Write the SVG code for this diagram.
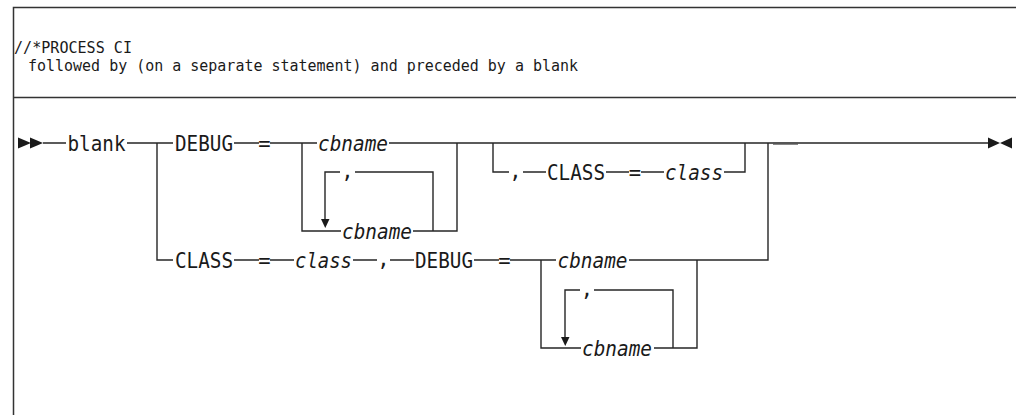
<svg xmlns="http://www.w3.org/2000/svg" width="1016" height="415" viewBox="0 0 1016 415">
<defs>
<style>
.bg{fill:#ffffff}
.frame{stroke:#333333;stroke-width:1.5;fill:none}
.ln{stroke:#262626;stroke-width:1.4;fill:none}
.hd{font-family:"DejaVu Sans Mono","Liberation Mono",monospace;font-size:15.6px;fill:#1a1a1a}
.t{font-family:"DejaVu Sans Mono","Liberation Mono",monospace;font-size:20.5px;fill:#1a1a1a}
.i{font-family:"DejaVu Sans Mono","Liberation Mono",monospace;font-size:20.5px;font-style:italic;fill:#1a1a1a}
.m{text-anchor:middle}
.ah{fill:#1a1a1a}
</style>
</defs>
<rect class="bg" x="0" y="0" width="1016" height="415"/>
<g id="frame">
<path class="frame" d="M13.5,415 V7.5 H1016 M13.5,97.5 H1016"/>
</g>
<g id="header">
<text class="hd" x="14" y="53" textLength="118" lengthAdjust="spacingAndGlyphs">//*PROCESS CI</text>
<text class="hd" x="28" y="71" textLength="550" lengthAdjust="spacingAndGlyphs">followed by (on a separate statement) and preceded by a blank</text>
</g>
<g id="connectors">
<path class="ln" d="M43,143 H66 M127,143 H173 M234,143 H259 M270,143 H317 M389,143 H988"/>
<path d="M773,143.5 H798" stroke="#555555" stroke-width="2.4"/>
<path class="ln" d="M157,143 V260 H173"/>
<path class="ln" d="M302,143 V231 H341 M413,231 H457 V143"/>
<path class="ln" d="M325,219 V172 H340 M355,172 H433 V231"/>
<path class="ln" d="M493,143 V172 H509 M523,172 H546 M606,172 H629 M641,172 H664 M724,172 H745 V143"/>
<path class="ln" d="M768,143 V260 H629"/>
<path class="ln" d="M234,260 H259 M270,260 H294 M353,260 H377 M390,260 H414 M474,260 H499 M510,260 H556"/>
<path class="ln" d="M541,260 V348 H581 M654,348 H697 V260"/>
<path class="ln" d="M565,337 V290 H580 M594,290 H673 V348"/>
<polygon class="ah" points="18,137.5 31,143 18,148.5"/>
<polygon class="ah" points="30,137.5 43,143 30,148.5"/>
<polygon class="ah" points="988,137.5 1000,143 988,148.5"/>
<polygon class="ah" points="1012,137.5 1000,143 1012,148.5"/>
<polygon class="ah" points="321,219 329.5,219 325.25,228"/>
<polygon class="ah" points="561,337 569.5,337 565.25,346"/>
</g>
<g id="node-blank"><text class="t" x="67.5" y="150.5" textLength="58" lengthAdjust="spacingAndGlyphs">blank</text></g>
<g id="node-debug1"><text class="t" x="175" y="150.5" textLength="58" lengthAdjust="spacingAndGlyphs">DEBUG</text></g>
<g id="node-eq1"><text class="t m" x="264.5" y="150.5">=</text></g>
<g id="node-cbname1"><text class="i" x="318" y="150.5" textLength="70" lengthAdjust="spacingAndGlyphs">cbname</text></g>
<g id="node-comma1"><text class="t m" x="347.5" y="178">,</text></g>
<g id="node-cbname2"><text class="i" x="342" y="238.5" textLength="70" lengthAdjust="spacingAndGlyphs">cbname</text></g>
<g id="node-comma2"><text class="t m" x="515.5" y="178">,</text></g>
<g id="node-class1"><text class="t" x="547" y="179.5" textLength="58" lengthAdjust="spacingAndGlyphs">CLASS</text></g>
<g id="node-eq2"><text class="t m" x="635" y="179.5">=</text></g>
<g id="node-classv1"><text class="i" x="665" y="179.5" textLength="58" lengthAdjust="spacingAndGlyphs">class</text></g>
<g id="node-class2"><text class="t" x="175" y="267.5" textLength="58" lengthAdjust="spacingAndGlyphs">CLASS</text></g>
<g id="node-eq3"><text class="t m" x="264.5" y="267.5">=</text></g>
<g id="node-classv2"><text class="i" x="295" y="267.5" textLength="57" lengthAdjust="spacingAndGlyphs">class</text></g>
<g id="node-comma3"><text class="t m" x="383.5" y="266">,</text></g>
<g id="node-debug2"><text class="t" x="415" y="267.5" textLength="58" lengthAdjust="spacingAndGlyphs">DEBUG</text></g>
<g id="node-eq4"><text class="t m" x="504.5" y="267.5">=</text></g>
<g id="node-cbname3"><text class="i" x="557.5" y="267.5" textLength="70" lengthAdjust="spacingAndGlyphs">cbname</text></g>
<g id="node-comma4"><text class="t m" x="587" y="296">,</text></g>
<g id="node-cbname4"><text class="i" x="582" y="355.5" textLength="70" lengthAdjust="spacingAndGlyphs">cbname</text></g>
</svg>
